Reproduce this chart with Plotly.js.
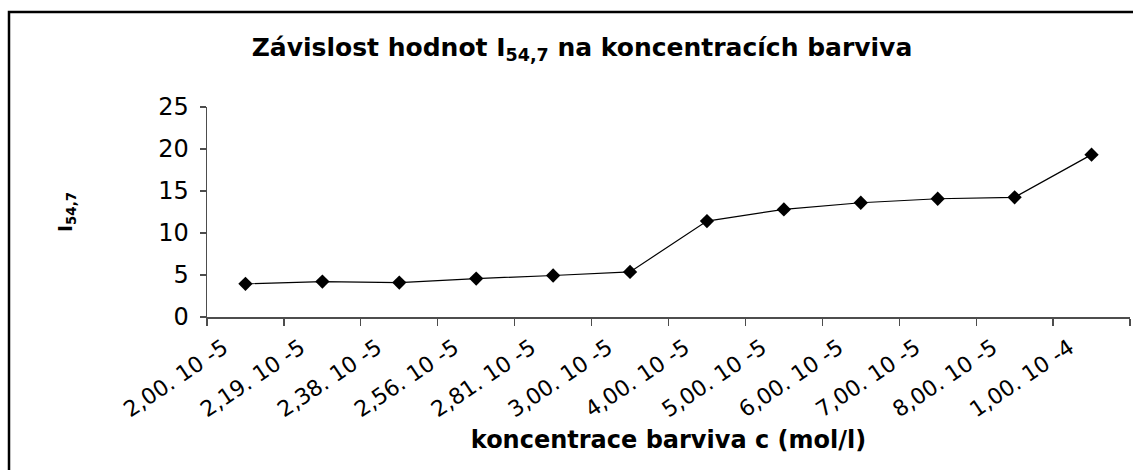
<!DOCTYPE html>
<html>
<head>
<meta charset="utf-8">
<script src="https://cdn.plot.ly/plotly-3.0.1.min.js"></script>
<style>html,body{margin:0;padding:0;background:#fff;}#chart{width:1133px;height:470px;}</style>
</head>
<body>
<div id="chart"></div>
<script>
const categories = ["2,00. 10 -5", "2,19. 10 -5", "2,38. 10 -5", "2,56. 10 -5", "2,81. 10 -5", "3,00. 10 -5",
  "4,00. 10 -5", "5,00. 10 -5", "6,00. 10 -5", "7,00. 10 -5", "8,00. 10 -5", "1,00. 10 -4"];
const values = [3.95, 4.22, 4.1, 4.58, 4.94, 5.37, 11.42, 12.81, 13.6, 14.08, 14.25, 19.33];
const yTicks = [0, 5, 10, 15, 20, 25];

const W = 1133, H = 470;
const M = {l: 207, r: 3, t: 107, b: 153};
const pw = W - M.l - M.r, ph = H - M.t - M.b;
const px = v => (v - M.l) / pw;          // pixel x -> paper x
const py = v => (H - M.b - v) / ph;      // pixel y -> paper y

const FONT = "DejaVu Sans, Arial, sans-serif";
const AX = "#4d4d4d";

const trace = {
  type: "scatter",
  mode: "lines+markers",
  x: categories,
  y: values,
  line: {color: "#000", width: 1.2},
  marker: {symbol: "diamond", size: 11, color: "#000"},
  showlegend: false,
  hoverinfo: "x+y"
};

const layout = {
  width: W, height: H,
  margin: M,
  paper_bgcolor: "#fff",
  plot_bgcolor: "#fff",
  font: {family: FONT, color: "#000", size: 21},
  title: {
    text: "<b>Závislost hodnot I<sub>54,7</sub> na koncentracích barviva</b>",
    font: {family: FONT, size: 25, color: "#000"},
    x: 582 / W, xref: "container", xanchor: "center",
    y: 1 - 47 / H, yref: "container", yanchor: "middle"
  },
  xaxis: {
    type: "category",
    range: [-0.5, categories.length - 0.5],
    tickmode: "linear", dtick: 1,
    tickson: "boundaries",
    ticks: "outside", ticklen: 7, tickcolor: AX, tickwidth: 1.3,
    showline: true, linecolor: AX, linewidth: 1.5,
    showgrid: false, zeroline: false,
    tickangle: -34,
    ticklabelshift: -22,
    ticklabelstandoff: 8,
    tickfont: {family: FONT, size: 22, color: "#000"},
    title: {text: "<b>koncentrace barviva c (mol/l)</b>", font: {family: FONT, size: 24, color: "#000"}, standoff: 10},
    automargin: false,
    fixedrange: true
  },
  yaxis: {
    range: [0, 25],
    tickmode: "array", tickvals: yTicks, ticktext: yTicks.map(String),
    ticks: "outside", ticklen: 6, tickcolor: AX, tickwidth: 1.3,
    showline: true, linecolor: AX, linewidth: 1.5,
    showgrid: false, zeroline: false,
    tickfont: {family: FONT, size: 24, color: "#000"},
    ticklabelstandoff: 6,
    title: {text: "<b>I<sub>54,7</sub></b>", font: {family: FONT, size: 19, color: "#000"}, standoff: 80},
    automargin: false,
    fixedrange: true
  },
  shapes: [{
    type: "rect", xref: "paper", yref: "paper",
    x0: px(9), x1: px(1160), y0: py(500), y1: py(12),
    line: {color: "#000", width: 2.5}, fillcolor: "rgba(0,0,0,0)", layer: "below"
  }]
};

Plotly.newPlot("chart", [trace], layout, {displayModeBar: false, staticPlot: true});
</script>
</body>
</html>
